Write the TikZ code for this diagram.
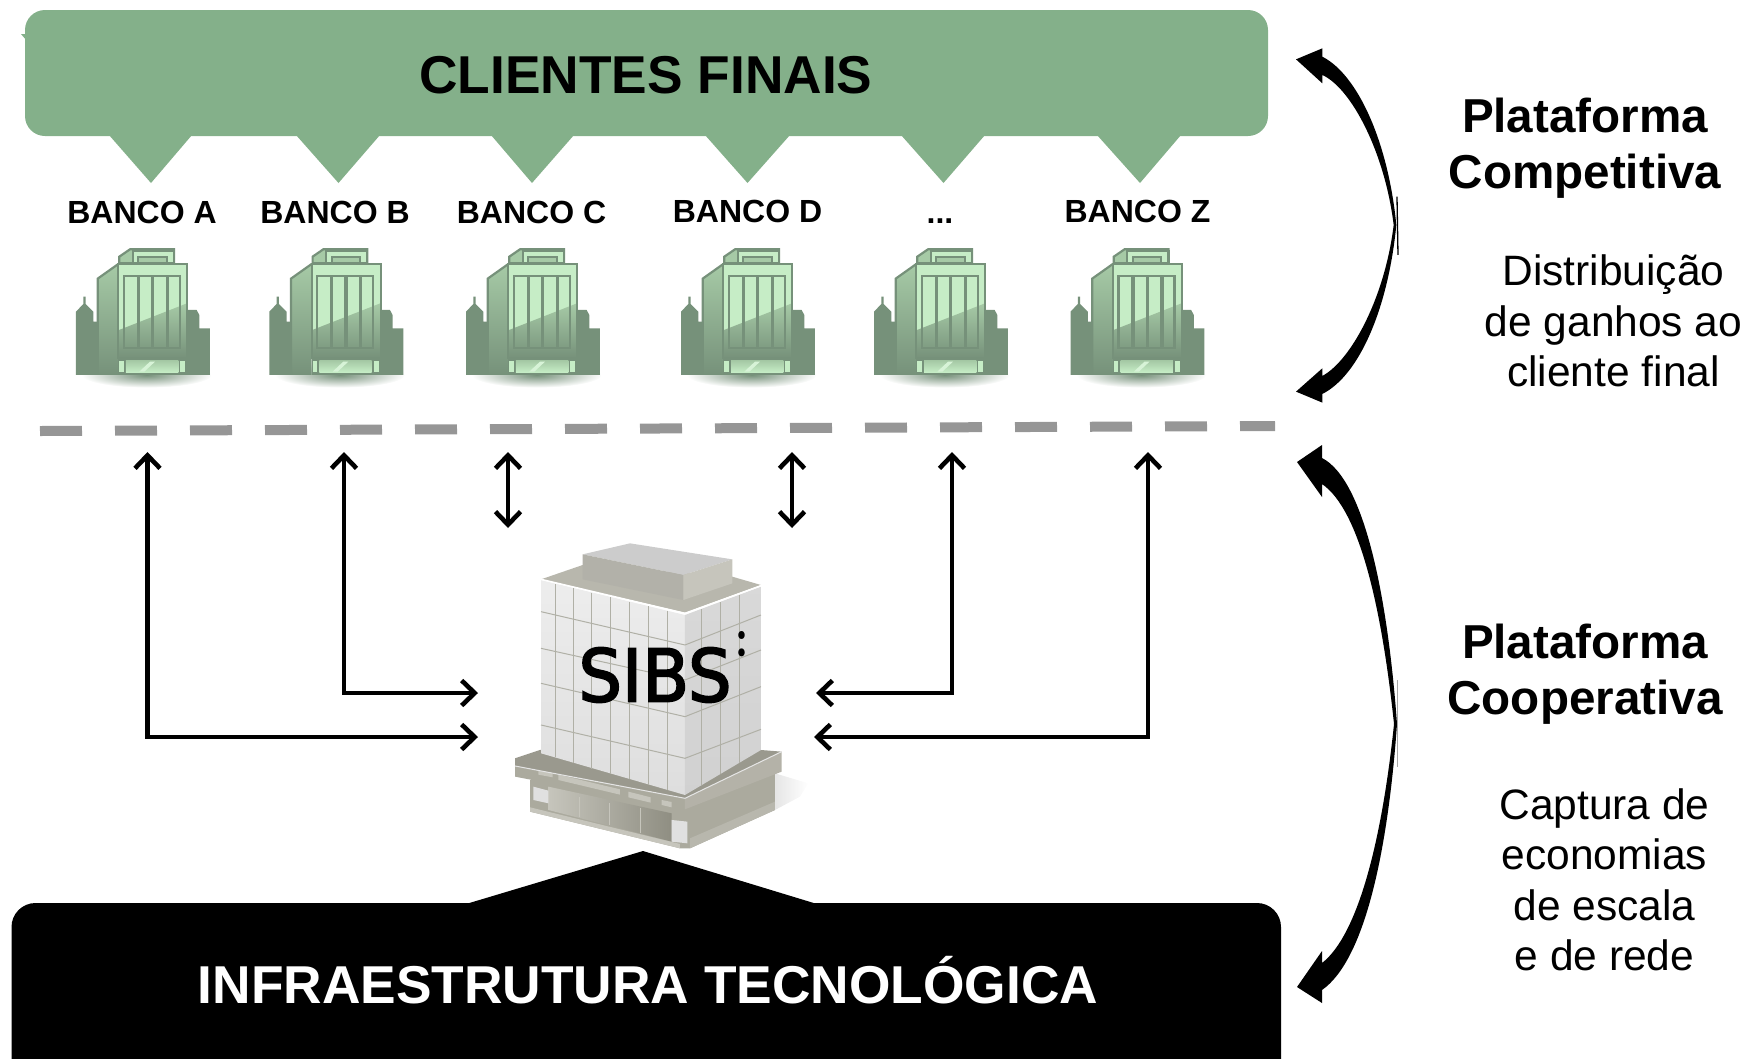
\documentclass[tikz,border=0pt]{standalone}
\usepackage{fontspec}
\setmainfont{Liberation Sans}
\newfontfamily\logofont[FakeBold=2.5]{DejaVu Sans}
\newfontfamily\dotfont{Poppins}
\usetikzlibrary{arrows.meta}
\definecolor{bannergreen}{HTML}{84B08A}
\definecolor{bankdark}{HTML}{76917A}
\definecolor{banklight}{HTML}{C6EDC6}
\definecolor{bankmid}{HTML}{A6CAA6}
\definecolor{dashgrey}{HTML}{969696}
\definecolor{gridline}{HTML}{B0B0A6}
\definecolor{stone}{HTML}{ABAA9E}
\definecolor{stonelight}{HTML}{C6C5BC}
\definecolor{stonedark}{HTML}{8F8E82}
\newcommand{\fsz}[1]{\fontsize{#1}{#1}\selectfont}
\newcommand{\threedots}{.{}.{}.}
\tikzset{
  flow/.style={line width=4.6pt,{Straight Barb[length=13pt,width=25pt,line width=4.6pt]}-{Straight Barb[length=13pt,width=25pt,line width=4.6pt]}},
  bankname/.style={anchor=base,inner sep=0pt,font=\bfseries\fsz{32}},
  head/.style={anchor=center,inner sep=0pt,align=center,font=\bfseries\fsz{47.6}},
  body/.style={anchor=center,inner sep=0pt,align=center,font=\fsz{42.5}},
  bank/.pic={
    \begin{scope}[x=0.3333pt,y=-0.3333pt,line join=miter]
      % ground shadow
      \shade[inner color=bankdark,outer color=white] (320,585) ellipse (195 and 38);
      % skyline
      \fill[bankdark] (108,585) -- (108,395) -- (130,372) -- (130,350) -- (137,350) -- (137,372) -- (160,395) -- (160,425) -- (185,425) -- (185,585) -- cycle;
      \fill[bankdark] (430,390) -- (470,390) -- (478,405) -- (478,445) -- (510,445) -- (510,585) -- (430,585) -- cycle;
      % roof block
      \draw[bankdark,line width=2.2pt,fill=bankmid] (238,250) -- (238,230) -- (270,208) -- (402,208) -- (402,250) -- cycle;
      \draw[bankdark,line width=2.2pt,fill=banklight] (278,250) -- (278,213) -- (402,213) -- (402,250) -- cycle;
      \draw[bankdark,line width=2.2pt,fill=bankmid] (295,250) -- (295,231) -- (380,231) -- (380,250) -- cycle;
      % side face
      \shade[top color=bankmid,bottom color=bankdark] (173,296) -- (235,252) -- (235,585) -- (173,585) -- cycle;
      \draw[bankdark,line width=2.2pt] (173,585) -- (173,296) -- (235,252);
      % front face
      \fill[banklight] (235,252) rectangle (442,535);
      \shade[top color=bankmid,bottom color=bankdark] (237,450) -- (441,370) -- (441,534) -- (237,534) -- cycle;
      \draw[bankdark,line width=2.2pt] (235,252) rectangle (442,535);
      % window strips
      \draw[bankdark,line width=2.2pt] (252,288) rectangle (420,505);
      \foreach \wx in {295,338,382}{\fill[bankdark] (\wx-5,288) rectangle (\wx+5,505);}
      % entrance
      \fill[bankdark] (235,535) rectangle (442,585);
      \fill[banklight] (238,543) rectangle (251,577);
      \fill[banklight] (421,543) rectangle (436,577);
      \shade[top color=bankmid,bottom color=banklight] (258,543) rectangle (415,577);
      \fill[banklight!70!white] (298,575) -- (330,545) -- (345,545) -- (313,575) -- cycle;
    \end{scope}
  }
}
\begin{document}
\begin{tikzpicture}[x=1pt,y=-1pt]
\useasboundingbox (0,0) rectangle (1750,1058);
% ---- top banner
\fill[bannergreen] (21,34) -- (27,34) -- (27,41) -- cycle;
\fill[bannergreen,rounded corners=20pt] (25,10) rectangle (1268,136);
\foreach \tipx/\lx/\rx in {151/109/192, 338.5/296/380, 532/491/574, 747.5/705/790, 943.5/901/985, 1140/1097/1181}{
  \fill[bannergreen] (\lx,135) -- (\tipx,183) -- (\rx,135) -- cycle;
}
\node[anchor=base,inner sep=0pt,font=\bfseries\fsz{53.3}] (clientes) at (646,93) {CLIENTES FINAIS};
% ---- banks
\foreach \bn/\bx/\by/\nm in {a/142/223/BANCO A, b/335/223/BANCO B, c/531.5/223/BANCO C, d/747.5/222/BANCO D, e/940/223/\threedots, z/1137.5/222/BANCO Z}{
  \node[bankname] (name\bn) at (\bx,\by) {\nm};
}
\foreach \ox in {40,233.3,430,645,838,1034.5}{
  \pic at (\ox,180) {bank};
}
% ---- dashed divider
\coordinate (dashL) at (40,431);
\coordinate (dashR) at (1275,426);
\draw[dashgrey,line width=10pt,dash pattern=on 42pt off 33pt] (dashL) -- (dashR);
% ---- SIBS building
\begin{scope}[shift={(480,520)},x=0.3333pt,y=-0.3333pt]
  \shade[left color=black!10,right color=white] (885,760) -- (985,790) -- (960,830) -- (885,870) -- cycle;
  % ground floor
  \fill[stone] (150,780) -- (150,875) -- (600,985) -- (630,985) -- (885,870) -- (885,755) -- cycle;
  \fill[stone!85!white] (630,985) -- (885,870) -- (885,845) -- (630,955) -- cycle;
  \shade[left color=stonelight,right color=stonedark] (205,800) -- (575,880) -- (575,965) -- (205,870) -- cycle;
  \draw[stonelight,line width=1pt] (298,830) -- (298,892) (388,850) -- (388,915) (482,865) -- (482,938);
  \fill[stonelight] (150,862) -- (600,972) -- (600,985) -- (150,875) -- cycle;
  \fill[black!12] (160,800) -- (205,812) -- (205,850) -- (160,840) -- cycle;
  \fill[black!12] (575,900) -- (622,905) -- (622,970) -- (575,965) -- cycle;
  % plinth
  \fill[stone!90!black] (105,715) -- (180,690) -- (843,690) -- (905,695) -- (615,835) -- (105,738) -- cycle;
  \fill[stone] (105,738) -- (615,835) -- (615,868) -- (105,770) -- cycle;
  \fill[stone!90!white] (615,835) -- (905,695) -- (905,755) -- (615,868) -- cycle;
  \fill[stonelight] (175,752) -- (218,760) -- (218,772) -- (175,764) -- cycle;
  \fill[stonelight] (235,764) -- (420,808) -- (420,824) -- (235,780) -- cycle;
  \fill[stonelight] (445,815) -- (512,832) -- (512,848) -- (445,832) -- cycle;
  \fill[stonelight] (545,840) -- (575,846) -- (575,862) -- (545,855) -- cycle;
  \draw[black!10,line width=1pt] (105,738) -- (615,835) -- (905,695);
  % tower
  \shade[top color=black!7,bottom color=black!13] (183,180) -- (615,285) -- (615,825) -- (183,700) -- cycle;
  \shade[top color=black!15,bottom color=black!18] (615,285) -- (843,200) -- (843,690) -- (615,825) -- cycle;
  \foreach \gx/\ga/\gb in {228/192/712, 280/205/730, 335/218/746, 392/232/762, 448/245/778, 505/258/795, 562/272/810}{
    \draw[gridline,line width=1pt] (\gx,\ga) -- (\gx,\gb);
  }
  \foreach \gy/\gz in {275/375, 385/480, 490/590, 615/715}{
    \draw[gridline,line width=1pt] (183,\gy) -- (615,\gz);
  }
  \foreach \gx/\ga/\gb in {665/268/796, 722/247/762, 780/224/728}{
    \draw[gridline,line width=1pt] (\gx,\ga) -- (\gx,\gb);
  }
  \foreach \gy/\gz in {375/285, 480/390, 590/500, 715/628}{
    \draw[gridline,line width=1pt] (615,\gy) -- (843,\gz);
  }
  % roof
  \fill[stone!85!white] (183,178) -- (308,135) -- (757,170) -- (843,195) -- (615,278) -- cycle;
  \draw[white,line width=1.5pt] (183,178) -- (615,280) -- (843,197);
  \fill[black!20] (308,103) -- (450,70) -- (757,118) -- (610,165) -- cycle;
  \fill[stonelight!90!black] (308,103) -- (610,165) -- (610,240) -- (308,178) -- cycle;
  \fill[stonelight] (610,165) -- (757,118) -- (757,190) -- (610,240) -- cycle;
\end{scope}
\node[inner sep=0pt,anchor=center] (sibs) at (655,675) {\resizebox{153pt}{54pt}{\logofont SIBS}};
\node[inner sep=0pt,anchor=center] (sibsdots) at (742.3,644.3) {\resizebox{9pt}{25pt}{\dotfont\bfseries :}};
% ---- connectors
\coordinate (aT) at (147.5,452); \coordinate (aE) at (147.5,737); \coordinate (aS) at (478,737);
\coordinate (bT) at (344,452);   \coordinate (bE) at (344,693);   \coordinate (bS) at (478,693);
\coordinate (cT) at (508,452);   \coordinate (cB) at (508,528);
\coordinate (dT) at (792,452);   \coordinate (dB) at (792,528);
\coordinate (eT) at (952,452);   \coordinate (eE) at (952,693);   \coordinate (eS) at (816,693);
\coordinate (zT) at (1148,452);  \coordinate (zE) at (1148,737);  \coordinate (zS) at (814,737);
\draw[flow] (aT) -- (aE) -- (aS);
\draw[flow] (bT) -- (bE) -- (bS);
\draw[flow] (cT) -- (cB);
\draw[flow] (dT) -- (dB);
\draw[flow] (eT) -- (eE) -- (eS);
\draw[flow] (zT) -- (zE) -- (zS);
% ---- bottom block
\fill[black,rounded corners=24pt] (11.5,903) rectangle (1281,1083);
\fill[black] (466,904) -- (643,851) -- (817,904) -- cycle;
\node[anchor=base,inner sep=0pt,text=white,font=\bfseries\fsz{53.3}] (infra) at (648,1003) {INFRAESTRUTURA TECNOLÓGICA};
% ---- curved arrows
\begin{scope}[shift={(1270,20)},x=0.3333pt,y=-0.3333pt]
  \fill[black] (78,118) -- (157,85) -- (157,110) .. controls (265,165) and (355,370) .. (379,615)
    .. controls (355,860) and (270,1065) .. (157,1122) -- (157,1148) -- (78,1115) -- (157,1045) -- (157,1068)
    .. controls (245,1020) and (345,830) .. (371,615) .. controls (345,400) and (245,205) .. (157,165) -- (157,190) -- cycle;
  \draw[black,line width=1.3pt] (381,530) -- (384,705);
\end{scope}
\fill[black] (1297,462) -- (1322,445) -- (1322,458) .. controls (1365,480) and (1388,600) .. (1397,724)
  .. controls (1388,850) and (1365,960) .. (1322,990) -- (1322,1003) -- (1297,987) -- (1322,951) -- (1322,963)
  .. controls (1358,935) and (1382,840) .. (1394,724) .. controls (1382,610) and (1360,510) .. (1322,484) -- (1322,497) -- cycle;
\draw[black!35,line width=0.9pt] (1397,680) -- (1397,767);
% ---- right-hand text
\node[head] (plat1) at (1585,148) {Plataforma\\[8.4pt]Competitiva};
\node[body] (dist) at (1613.5,321) {Distribuição\\[8pt]de ganhos ao\\[8pt]cliente final};
\node[head] (plat2) at (1585,674) {Plataforma\\[8.4pt]Cooperativa};
\node[body] (capt) at (1604.5,880) {Captura de\\[8pt]economias\\[8pt]de escala\\[8pt]e de rede};
\end{tikzpicture}
\end{document}
